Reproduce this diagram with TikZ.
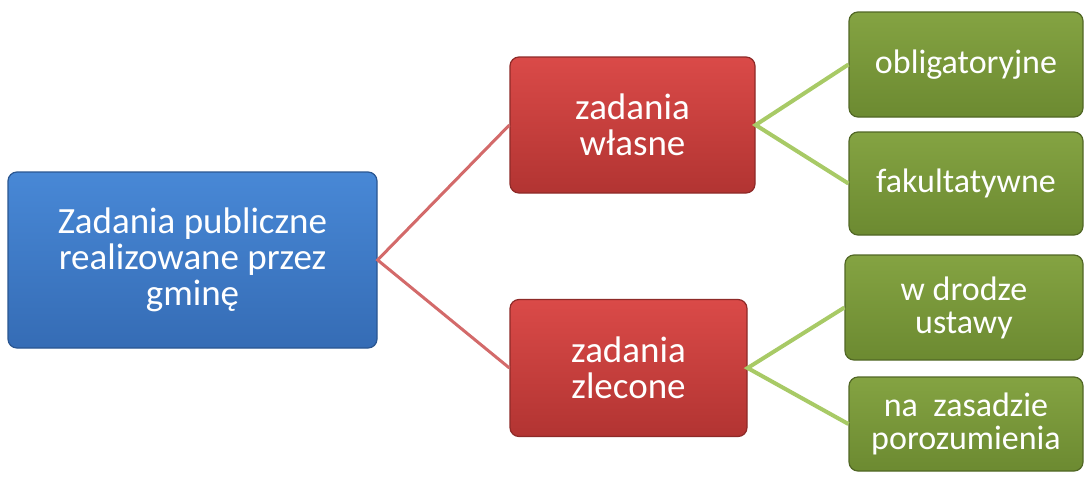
\documentclass[tikz,border=0pt]{standalone}
\usepackage{fontspec}
\setmainfont{Carlito}

\definecolor{blueTop}{HTML}{4888D6}
\definecolor{blueBot}{HTML}{356CB5}
\definecolor{redTop}{HTML}{DA4A48}
\definecolor{redBot}{HTML}{B23432}
\definecolor{greenTop}{HTML}{84A342}
\definecolor{greenBot}{HTML}{6C8A31}
\definecolor{redLink}{HTML}{D36A6A}
\definecolor{greenLink}{HTML}{A8CA66}

\tikzset{
  box/.style={rounded corners=9pt, line width=1.2pt, align=center, text=white,
    inner sep=0pt, font=\fontsize{37}{36}\selectfont},
  bluebox/.style={box, draw=blueBot!80!black, top color=blueTop, bottom color=blueBot},
  redbox/.style={box, draw=redBot!80!black, top color=redTop, bottom color=redBot},
  greenbox/.style={box, draw=greenBot!75!black, top color=greenTop, bottom color=greenBot,
    minimum width=234pt, font=\fontsize{34}{33}\selectfont},
  redlink/.style={draw=redLink, line width=3pt},
  greenlink/.style={draw=greenLink, line width=4pt},
}

\begin{document}
\begin{tikzpicture}[x=1pt, y=-1pt]
        \useasboundingbox (0, 0) rectangle (1086, 477);

        \node[bluebox, minimum width=369pt, minimum height=176pt] (gmina) at (192.5, 260)
          {Zadania publiczne\\realizowane przez\\gminę};

        \node[redbox, minimum width=245pt, minimum height=136pt] (wlasne) at (632.5, 125)
          {zadania\\własne};
        \node[redbox, minimum width=237pt, minimum height=137pt] (zlecone) at (628.5, 368)
          {zadania\\zlecone};

        \node[greenbox, minimum height=105pt] (oblig) at (966, 64.5) {obligatoryjne};
        \node[greenbox, minimum height=103pt] (fakult) at (966, 183.5) {fakultatywne};
        \node[greenbox, minimum width=238pt, minimum height=105pt] (ustawa) at (964, 307.5)
          {w drodze\\ustawy};
        \node[greenbox, minimum height=94pt] (porozum) at (966, 424)
          {na~ zasadzie\\porozumienia};

        \draw[redlink] (wlasne.west) -- (gmina.east) -- (zlecone.west);
        \draw[greenlink] (oblig.west) -- (wlasne.east) -- (fakult.west);
        \draw[greenlink] (ustawa.west) -- (zlecone.east) -- (porozum.west);
      \end{tikzpicture}
\end{document}
